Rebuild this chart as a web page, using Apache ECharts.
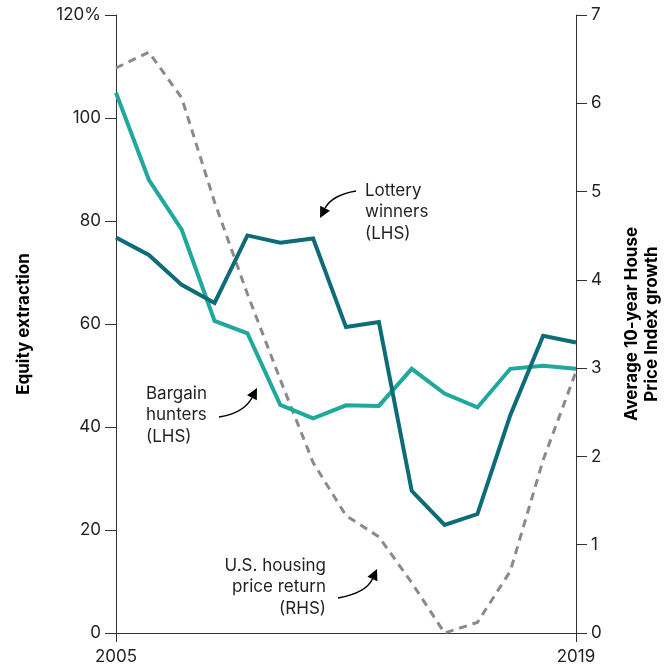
<!DOCTYPE html>
<html>
<head>
<meta charset="utf-8">
<script src="https://cdn.jsdelivr.net/npm/echarts@6/dist/echarts.min.js"></script>
<style>
  html, body { margin: 0; padding: 0; background: #fff; overflow: hidden; }
  #chart { width: 672px; height: 670px; }
</style>
</head>
<body>
<div id="chart"></div>
<script>
const years = ['2005', '2006', '2007', '2008', '2009', '2010', '2011', '2012', '2013', '2014', '2015', '2016', '2017', '2018', '2019'];
const lotteryWinners = [76.8, 73.4, 67.6, 64.1, 77.2, 75.8, 76.6, 59.4, 60.4, 27.6, 21.0, 23.1, 42.3, 57.7, 56.4];
const bargainHunters = [104.9, 88.0, 78.3, 60.6, 58.2, 44.3, 41.7, 44.2, 44.1, 51.3, 46.5, 43.8, 51.3, 51.9, 51.3];
const housingReturn = [6.40, 6.58, 6.06, 4.88, 3.84, 2.87, 1.93, 1.33, 1.09, 0.57, 0.0, 0.12, 0.70, 1.96, 2.96];
const shownYears = ['2005', '2019'];

const FONT = 'Inter';
const INK = '#231f20';

// curved annotation arrow: bezier from (x1,y1) to tip (x2,y2) + filled head
function arrow(x1, y1, cx, cy, x2, y2) {
  const ang = Math.atan2(y2 - cy, x2 - cx);
  const len = 11, half = 5.5;
  const bx = x2 - len * Math.cos(ang), by = y2 - len * Math.sin(ang);
  const px = -Math.sin(ang) * half, py = Math.cos(ang) * half;
  return [
    {
      type: 'bezierCurve',
      shape: { x1: x1, y1: y1, x2: bx, y2: by, cpx1: cx, cpy1: cy },
      style: { stroke: '#000', lineWidth: 1.5, fill: null }
    },
    {
      type: 'polygon',
      shape: { points: [[x2, y2], [bx + px, by + py], [bx - px, by - py]] },
      style: { fill: '#000' }
    }
  ];
}

function note(x, y, text, align) {
  return {
    type: 'text',
    x: x, y: y,
    style: { text: text, font: '17px ' + FONT, fill: INK, align: align || 'left', lineHeight: 21.5 }
  };
}

const chart = echarts.init(document.getElementById('chart'), null, {
  renderer: 'canvas', width: 672, height: 670
});

chart.setOption({
  animation: false,
  textStyle: { fontFamily: FONT },
  grid: {
    left: 116, right: 96, top: 15, bottom: 37,
    containLabel: false, outerBoundsMode: 'none'
  },
  xAxis: {
    type: 'category',
    data: years,
    boundaryGap: false,
    axisLine: { lineStyle: { color: '#333', width: 1 } },
    axisTick: {
      length: 9,
      lineStyle: { color: '#333' },
      interval: (i, v) => shownYears.indexOf(v) >= 0
    },
    axisLabel: {
      interval: (i, v) => shownYears.indexOf(v) >= 0,
      color: INK, fontSize: 17, fontFamily: FONT, margin: 15
    }
  },
  yAxis: [
    {
      type: 'value',
      min: 0, max: 120, interval: 20,
      name: 'Equity extraction',
      nameLocation: 'middle',
      nameGap: 84,
      nameRotate: 90,
      nameTextStyle: { color: '#000', fontSize: 17, fontWeight: 'bold', fontFamily: FONT },
      axisLine: { show: true, lineStyle: { color: '#333' } },
      axisTick: { show: true, length: 11, lineStyle: { color: '#333' } },
      axisLabel: {
        color: INK, fontSize: 17, fontFamily: FONT, margin: 15,
        formatter: v => v === 120 ? '120%' : String(v)
      },
      splitLine: { show: false }
    },
    {
      type: 'value',
      min: 0, max: 7, interval: 1,
      name: 'Average 10-year House\nPrice Index growth',
      nameLocation: 'middle',
      nameGap: 46,
      nameRotate: 90,
      nameTextStyle: { color: '#000', fontSize: 17, fontWeight: 'bold', fontFamily: FONT, lineHeight: 20 },
      axisLine: { show: true, lineStyle: { color: '#333' } },
      axisTick: { show: true, length: 11, lineStyle: { color: '#333' } },
      axisLabel: { color: INK, fontSize: 17, fontFamily: FONT, margin: 15 },
      splitLine: { show: false }
    }
  ],
  series: [
    {
      name: 'U.S. housing price return (RHS)',
      type: 'line',
      yAxisIndex: 1,
      data: housingReturn,
      showSymbol: false,
      lineStyle: { color: '#8a8a8a', width: 3, type: [8, 6] },
      z: 1
    },
    {
      name: 'Bargain hunters (LHS)',
      type: 'line',
      data: bargainHunters,
      showSymbol: false,
      lineStyle: { color: '#1fa89b', width: 4, join: 'miter' },
      z: 2
    },
    {
      name: 'Lottery winners (LHS)',
      type: 'line',
      data: lotteryWinners,
      showSymbol: false,
      lineStyle: { color: '#0d6c77', width: 4, join: 'miter' },
      z: 3
    }
  ],
  graphic: [
    note(365, 180, 'Lottery\nwinners\n(LHS)'),
    ...arrow(356, 191, 332, 195, 320, 218),
    note(146, 383, 'Bargain\nhunters\n(LHS)'),
    ...arrow(219, 417, 244, 413, 257, 388),
    note(326, 555, 'U.S. housing\nprice return\n(RHS)', 'right'),
    ...arrow(338, 598, 366, 593, 377, 569)
  ]
});
</script>
</body>
</html>
